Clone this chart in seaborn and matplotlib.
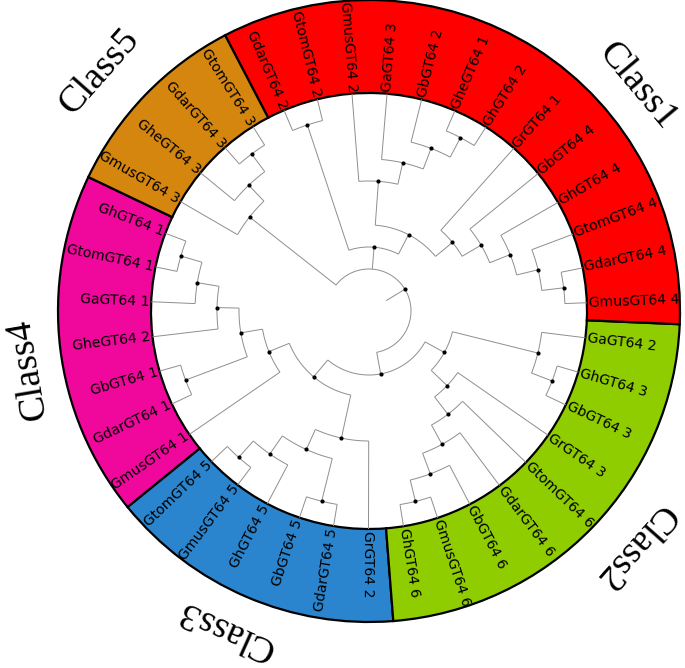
import numpy as np
import matplotlib.pyplot as plt
import seaborn as sns

# clades, children listed in counter-clockwise leaf order
class4_tree = [[[[["GhGT64 1", "GtomGT64 1"], "GaGT64 1"], "GheGT64 2"], ["GbGT64 1", "GdarGT64 1"]], "GmusGT64 1"]
class3_tree = [[[["GtomGT64 5", "GmusGT64 5"], "GhGT64 5"], ["GbGT64 5", "GdarGT64 5"]], "GrGT64 2"]
class2_tree = [[[[[["GhGT64 6", "GmusGT64 6"], "GbGT64 6"], "GdarGT64 6"], "GtomGT64 6"], "GrGT64 3"],
               [["GbGT64 3", "GhGT64 3"], "GaGT64 2"]]
class1_tree = [[[[[[["GmusGT64 4", "GdarGT64 4"], "GtomGT64 4"], "GhGT64 4"], "GbGT64 4"], "GrGT64 1"],
                [[[["GhGT64 2", "GheGT64 1"], "GbGT64 2"], "GaGT64 3"], "GmusGT64 2"]],
               ["GtomGT64 2", "GdarGT64 2"]]
class5_tree = [[["GtomGT64 3", "GdarGT64 3"], "GheGT64 3"], "GmusGT64 3"]

tree = [[[class4_tree, class3_tree], class2_tree], class1_tree, class5_tree]

class_names = ["Class4", "Class3", "Class2", "Class1", "Class5"]
class_trees = [class4_tree, class3_tree, class2_tree, class1_tree, class5_tree]
class_colors = ["#F0079B", "#2A85CE", "#8FCC00", "#FF0000", "#D4860F"]
class_label_angle = [189.7, 245.8, 318.5, 40.0, 138.4]
class_label_radius = [346, 349, 355, 350, 361]

first_leaf_angle = 159.1
r_leaf = 218
r_ring = 311
dr = 22
r_max = 330


def collect(node, out):
    if isinstance(node, str):
        out.append(node)
    else:
        for c in node:
            collect(c, out)
    return out


leaves = collect(tree, [])
step = 360 / len(leaves)
leaf_angle = {name: first_leaf_angle + i * step for i, name in enumerate(leaves)}

segments = []
node_pts = []


def layout(node):
    if isinstance(node, str):
        return leaf_angle[node], 0
    kids = [layout(c) for c in node]
    h = 1 + max(k[1] for k in kids)
    r = r_leaf - h * dr
    angs = [k[0] for k in kids]
    a = (min(angs) + max(angs)) / 2
    arc = np.linspace(min(angs), max(angs), 80)
    segments.append((arc, np.full_like(arc, r)))
    for ka, kh in kids:
        segments.append((np.array([ka, ka]), np.array([r, r_leaf - kh * dr])))
    node_pts.append((a, r))
    return a, h


root_angle, root_h = layout(tree)
root_r = r_leaf - root_h * dr
segments.append((np.array([root_angle, root_angle]), np.array([root_r - dr, root_r])))

sns.set_theme(style="white")
plt.rcParams['font.family'] = ['DejaVu Sans']

W, H = 685, 668
cx, cy = 369, H - 311
fig = plt.figure(figsize=(W / 100, H / 100), dpi=100)
ax = fig.add_axes([(cx - r_max) / W, (cy - r_max) / H, 2 * r_max / W, 2 * r_max / H], projection='polar')
ax.set_ylim(0, r_max)
ax.axis('off')

# coloured ring
for name, sub, col in zip(class_names, class_trees, class_colors):
    angs = [leaf_angle[n] for n in collect(sub, [])]
    lo, hi = min(angs) - step / 2, max(angs) + step / 2
    ax.bar(np.radians((lo + hi) / 2), r_ring - r_leaf, width=np.radians(hi - lo), bottom=r_leaf,
           color=col, edgecolor='black', linewidth=1.6, align='center', zorder=1)

# branches
for th, rr in segments:
    ax.plot(np.radians(th), rr, color='#8e8e8e', lw=0.7, zorder=2, solid_capstyle='butt')

nx = np.radians([p[0] for p in node_pts])
ny = [p[1] for p in node_pts]
sns.scatterplot(x=nx, y=ny, ax=ax, color='black', s=9, linewidth=0, zorder=3)
ax.set_xlabel('')
ax.set_ylabel('')

# leaf labels
for name in leaves:
    a = leaf_angle[name] % 360
    if np.cos(np.radians(a)) < -0.01:
        rot, ha = a - 180, 'right'
    else:
        rot, ha = a, 'left'
    ax.text(np.radians(a), r_leaf + 2, name, rotation=rot, rotation_mode='anchor',
            ha=ha, va='center', fontsize=10.1, color='black', zorder=4)

# class labels
for name, a, rr in zip(class_names, class_label_angle, class_label_radius):
    ax.text(np.radians(a), rr, name, rotation=a - 90, rotation_mode='anchor',
            ha='center', va='center', fontsize=27.5, family='Liberation Serif', color='black')

fig.savefig('out.png', dpi=100)
